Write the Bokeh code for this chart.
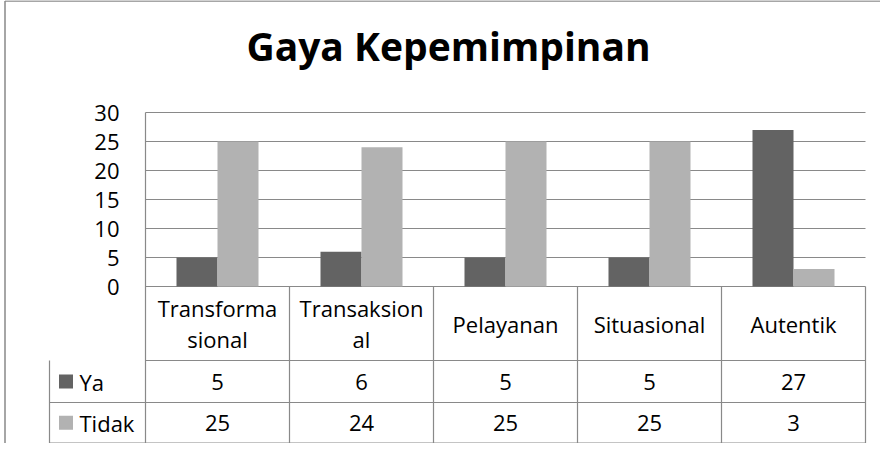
from bokeh.plotting import figure
from bokeh.models import Range1d, LinearAxis, FixedTicker, Label, ColumnDataSource
from bokeh.core.properties import value
from bokeh.embed import file_html
from bokeh.resources import INLINE

# ---------------- data ----------------
title_text = "Gaya Kepemimpinan"
categories = ["Transformasional", "Transaksional", "Pelayanan", "Situasional", "Autentik"]
category_labels = ["Transforma\nsional", "Transaksion\nal", "Pelayanan", "Situasional", "Autentik"]
series_names = ["Ya", "Tidak"]
ya = [5, 6, 5, 5, 27]
tidak = [25, 24, 25, 25, 3]
y_ticks = [0, 5, 10, 15, 20, 25, 30]

# ---------------- layout / style constants ----------------
W, H = 880, 443
PAGE = 8                    # page margin
ZERO_Y = 294                # reference pixel row of value 0
PX_PER_UNIT = 5.8           # vertical px per value unit
LEFT_X = 153                # reference pixel col of plot-area left
PX_PER_CAT = 144            # horizontal px per category

def yv(ref):
    return (ZERO_Y - ref) / PX_PER_UNIT

def xv(ref):
    return (ref - LEFT_X) / PX_PER_CAT

DARK = "#636363"
LIGHT = "#b2b2b2"
LINE = "#898989"
FONT = "Open Sans"
FS = "22px"

n = len(categories)
bar_w = 41 / PX_PER_CAT
idx = list(range(n))

header_bot = yv(368)
row_mid = yv(410)
table_bot = yv(450.5)
legend_left = xv(57)

p = figure(width=W, height=H, output_backend="svg", toolbar_location=None,
           x_range=Range1d(xv(PAGE), xv(PAGE + W)),
           y_range=Range1d(yv(PAGE + H), yv(PAGE)),
           x_axis_location=None, y_axis_location=None,
           min_border=0, outline_line_color=None,
           background_fill_color="white", border_fill_color="white")
p.grid.visible = False

# outer chart border (left + top)
p.segment(x0=[xv(12.5)], y0=[yv(PAGE + H)], x1=[xv(12.5)], y1=[yv(PAGE + 0.5)],
          line_color=LINE, line_width=1.5)
p.segment(x0=[xv(12.5)], y0=[yv(PAGE + 0.5)], x1=[xv(PAGE + W)], y1=[yv(PAGE + 0.5)],
          line_color=LINE, line_width=1.5)

# gridlines from tick values
p.segment(x0=[0] * len(y_ticks), y0=y_ticks, x1=[n] * len(y_ticks), y1=y_ticks,
          line_color=LINE, line_width=1.2)

# bars
src = ColumnDataSource(dict(
    xya=[i + 0.5 - bar_w / 2 for i in idx],
    xti=[i + 0.5 + bar_w / 2 for i in idx],
    ya=ya, tidak=tidak))
p.vbar(x="xya", top="ya", bottom=0, width=bar_w, source=src,
       fill_color=DARK, line_color=None)
p.vbar(x="xti", top="tidak", bottom=0, width=bar_w, source=src,
       fill_color=LIGHT, line_color=None)

# y axis at data x = 0
yaxis = LinearAxis(fixed_location=0, ticker=FixedTicker(ticks=y_ticks),
                   bounds=(table_bot, max(y_ticks)))
yaxis.axis_line_color = LINE
yaxis.axis_line_width = 1.2
yaxis.major_tick_out = 0
yaxis.major_tick_in = 0
yaxis.minor_tick_out = 0
yaxis.minor_tick_in = 0
yaxis.major_label_standoff = 26
yaxis.major_label_text_font = FONT
yaxis.major_label_text_font_size = FS
yaxis.major_label_text_color = "black"
p.add_layout(yaxis, "left")

# data table lines
hy = [header_bot, row_mid, table_bot]
p.segment(x0=[legend_left] * 2 + [0], y0=hy[1:] + [header_bot],
          x1=[n] * 3, y1=hy[1:] + [header_bot], line_color=LINE, line_width=1.2)
p.segment(x0=[legend_left], y0=[header_bot], x1=[legend_left], y1=[table_bot],
          line_color=LINE, line_width=1.2)
vx = list(range(1, n + 1))
p.segment(x0=vx, y0=[0] * n, x1=vx, y1=[table_bot] * n,
          line_color=LINE, line_width=1.2)

# header labels
p.text(x=[i + 0.5 for i in idx], y=[(0 + header_bot) / 2] * n, text=category_labels,
       text_align="center", text_baseline="middle", text_font=value(FONT),
       text_font_size=FS, text_line_height=1.03, text_color="black")

# values
ya_y = (header_bot + row_mid) / 2
ti_y = (row_mid + table_bot) / 2
p.text(x=[i + 0.5 for i in idx], y=[ya_y] * n, text=[str(v) for v in ya],
       text_align="center", text_baseline="middle", text_font=value(FONT),
       text_font_size=FS, text_color="black")
p.text(x=[i + 0.5 for i in idx], y=[ti_y] * n, text=[str(v) for v in tidak],
       text_align="center", text_baseline="middle", text_font=value(FONT),
       text_font_size=FS, text_color="black")

# legend keys in table
p.scatter(x=[xv(73.5)] * 2, y=[ya_y, ti_y], marker="square", size=14,
          fill_color=[DARK, LIGHT], line_color=None)
p.text(x=[xv(87)] * 2, y=[ya_y, ti_y], text=series_names,
       text_align="left", text_baseline="middle", text_font=value(FONT),
       text_font_size=FS, text_color="black")

# title
p.add_layout(Label(x=xv(456), y=yv(53), text=title_text, text_font=FONT,
                   text_font_style="bold", text_font_size="39px",
                   text_align="center", text_baseline="middle", text_color="black"))

open("out.html", "w").write(file_html(p, INLINE))
